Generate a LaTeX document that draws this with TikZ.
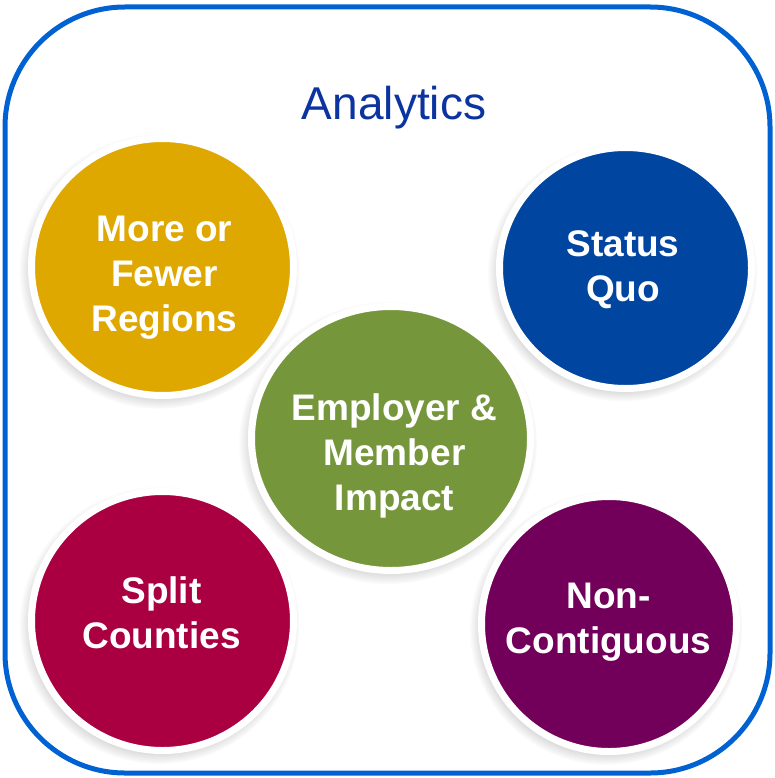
\documentclass[tikz,border=0pt]{standalone}
\usepackage{fontspec}
\setmainfont{Liberation Sans}
\usetikzlibrary{shapes.geometric,shadows,fadings}

\definecolor{frameblue}{RGB}{0,98,210}
\definecolor{titleblue}{RGB}{12,52,160}
\definecolor{gold}{RGB}{223,168,0}
\definecolor{navy}{RGB}{0,70,160}
\definecolor{olive}{RGB}{118,150,60}
\definecolor{crimson}{RGB}{170,0,66}
\definecolor{plum}{RGB}{114,0,90}

\begin{document}
\begin{tikzpicture}
[x=1pt, y=-1pt,
bubble/.style={ellipse, draw=white, line width=7pt, inner sep=0pt,
  circular drop shadow={shadow xshift=-3pt, shadow yshift=-4pt, shadow scale=1.07, opacity=0.5}},
bubbletext/.style={text=white, font=\bfseries\fontsize{37}{45}\selectfont, align=center, inner sep=0pt}]

\useasboundingbox (0,0) rectangle (774,778);
\draw[frameblue, line width=5pt, rounded corners=120pt, fill=white] (5,7) rectangle (770,773);

\node[text=titleblue, font=\fontsize{46}{55}\selectfont, anchor=base] (title) at (394,120) {Analytics};

\node[bubble, fill=olive, minimum width=279pt, minimum height=264pt] (impact) at (391,438.5) {};
\node[bubble, fill=gold, minimum width=262pt, minimum height=257pt] (regions) at (162.5,267) {};
\node[bubble, fill=navy, minimum width=252pt, minimum height=241pt] (quo) at (625.5,268) {};
\node[bubble, fill=crimson, minimum width=262pt, minimum height=259pt] (split) at (162.5,621) {};
\node[bubble, fill=plum, minimum width=255pt, minimum height=255pt] (noncont) at (609,624) {};

\node[bubbletext] (impacttext) at (394.5,456) {Employer \&\\Member\\Impact};
\node[bubbletext] (regionstext) at (164.5,278) {More or\\Fewer\\Regions};
\node[bubbletext] (quotext) at (623,270) {Status\\Quo};
\node[bubbletext] (splittext) at (161.5,613) {Split\\Counties};
\node[bubbletext] (noncontext) at (608.5,622) {Non-\\Contiguous};
\end{tikzpicture}
\end{document}
